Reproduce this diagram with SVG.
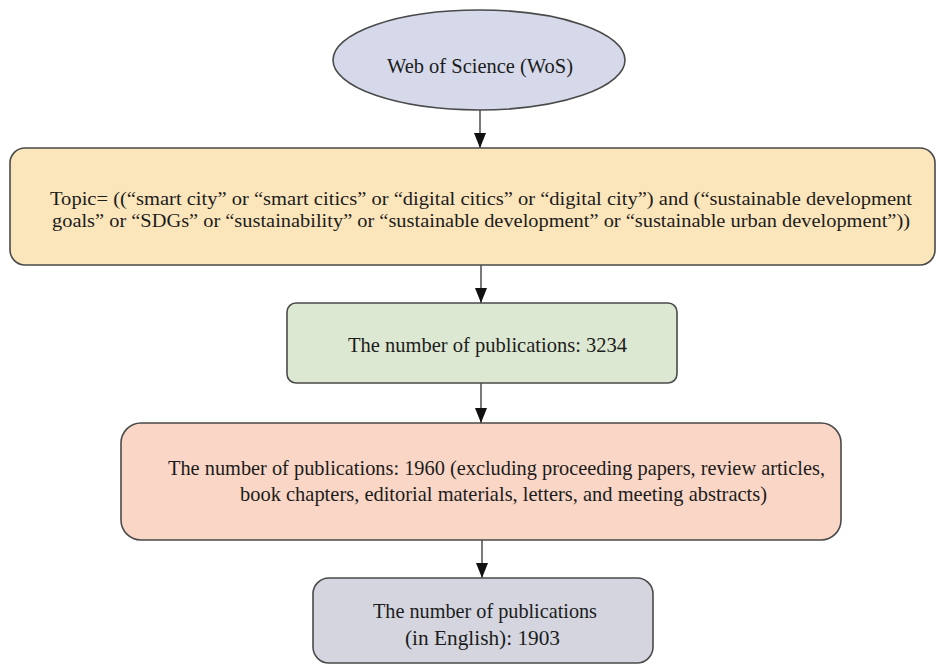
<svg xmlns="http://www.w3.org/2000/svg" width="936" height="664" viewBox="0 0 936 664">
<defs>
<style>
.n{stroke:#4a4a4a;stroke-width:1.6}
.t{font-family:"Liberation Serif","Times New Roman",serif;font-size:21px;fill:#1c1c1c}
.s{font-size:19px}
.c{stroke:#333;stroke-width:1.3;fill:none}
</style>
<marker id="ah" viewBox="0 0 15 12" refX="15" refY="6" markerWidth="15" markerHeight="12" markerUnits="userSpaceOnUse" orient="auto">
<path d="M0,0 L15,6 L0,12 Z" fill="#111"/>
</marker>
</defs>
<rect width="936" height="664" fill="#ffffff"/>
<g id="connectors">
<line class="c" x1="480" y1="110" x2="480" y2="148" marker-end="url(#ah)"/>
<line class="c" x1="481" y1="265" x2="481" y2="303" marker-end="url(#ah)"/>
<line class="c" x1="481" y1="383" x2="481" y2="423" marker-end="url(#ah)"/>
<line class="c" x1="482" y1="540" x2="482" y2="578" marker-end="url(#ah)"/>
</g>
<g id="wos">
<ellipse class="n" cx="479" cy="60" rx="146" ry="50" fill="#d5d9ea"/>
<text class="t" x="480" y="73" text-anchor="middle" textLength="186" lengthAdjust="spacingAndGlyphs">Web of Science (WoS)</text>
</g>
<g id="topic">
<rect class="n" x="10" y="148" width="925" height="117" rx="15" fill="#fbe5bb"/>
<text class="t s" x="50" y="205" textLength="862" lengthAdjust="spacingAndGlyphs">Topic= ((“smart city” or “smart citics” or “digital citics” or “digital city”) and (“sustainable development</text>
<text class="t s" x="52" y="227" textLength="858" lengthAdjust="spacingAndGlyphs">goals” or “SDGs” or “sustainability” or “sustainable development” or “sustainable urban development”))</text>
</g>
<g id="n3234">
<rect class="n" x="287" y="303" width="390" height="80" rx="9" fill="#dde8d2"/>
<text class="t" x="348" y="352" textLength="279" lengthAdjust="spacingAndGlyphs">The number of publications: 3234</text>
</g>
<g id="n1960">
<rect class="n" x="121" y="423" width="720" height="117" rx="20" fill="#f9d6c6"/>
<text class="t" x="168" y="475" textLength="657" lengthAdjust="spacingAndGlyphs">The number of publications: 1960 (excluding proceeding papers, review articles,</text>
<text class="t" x="240" y="501" textLength="527" lengthAdjust="spacingAndGlyphs">book chapters, editorial materials, letters, and meeting abstracts)</text>
</g>
<g id="n1903">
<rect class="n" x="313" y="578" width="340" height="85" rx="16" fill="#d4d5df"/>
<text class="t" x="373" y="618" textLength="224" lengthAdjust="spacingAndGlyphs">The number of publications</text>
<text class="t" x="405" y="645" textLength="155" lengthAdjust="spacingAndGlyphs">(in English): 1903</text>
</g>
</svg>
